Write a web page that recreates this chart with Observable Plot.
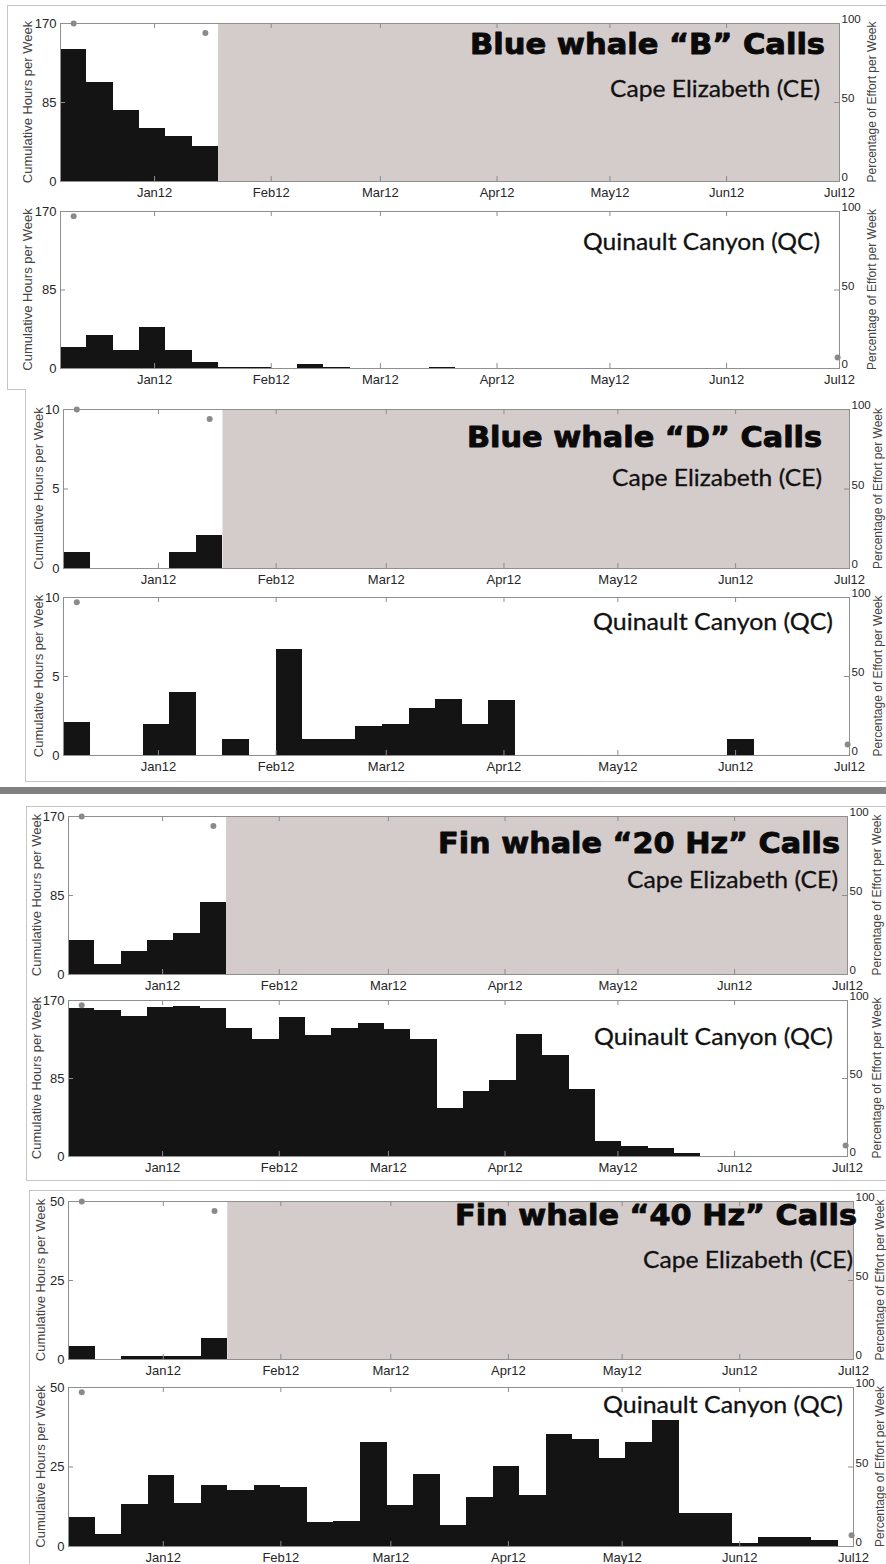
<!DOCTYPE html>
<html><head><meta charset="utf-8">
<script src="https://cdn.jsdelivr.net/npm/d3@7"></script>
<script src="https://cdn.jsdelivr.net/npm/@observablehq/plot@0.6"></script>
<style>
body{margin:0;background:#fff;}
#root{position:relative;width:886px;height:1564px;overflow:hidden;background:#fff;}
.box{position:absolute;border:1px solid #c6c6c6;box-sizing:border-box;background:#fff;}
.sep{position:absolute;left:0;width:886px;background:#808080;}
.panel{position:absolute;left:0;}
.panel svg{overflow:visible;}
#overlay{position:absolute;left:0;top:0;}
</style></head><body><div id="root"></div>
<script>
// ---------- DATA ----------
const weekStart = "2011-12-07";          // first week of recordings
const axisEnd = "2012-07-01";
const ceRecordingEnd = "2012-01-18";      // Cape Elizabeth recorder stopped
const monthTicks = ["2012-01-01","2012-02-01","2012-03-01","2012-04-01","2012-05-01","2012-06-01","2012-07-01"];
const monthLabels = ["Jan12","Feb12","Mar12","Apr12","May12","Jun12","Jul12"];
const siteNames = ["Cape Elizabeth (CE)", "Quinault Canyon (QC)"];
const callTitles = ["Blue whale “B” Calls", "Blue whale “D” Calls", "Fin whale “20 Hz” Calls", "Fin whale “40 Hz” Calls"];
const yMaxes = [170, 10, 170, 50];
const yAxisTitle = "Cumulative Hours per Week";
const rightAxisTitle = "Percentage of Effort per Week";

// weekly cumulative hours (week 0 starts 2011-12-07)
const blueB_CE = [142, 107, 76, 57, 48, 38];
const blueB_QC = [23, 36, 20, 44, 19, 6, 1.5, 0.7, 0, 4.5, 0.7, 0, 0, 0.4, 1.3, 0, 0, 0, 0, 0, 0, 0, 0, 0, 0, 0, 0, 0, 0, 0];
const blueD_CE = [1, 0, 0, 0, 1, 2.1];
const blueD_QC = [2.1, 0, 0, 1.95, 4.0, 0, 1.0, 0, 6.7, 1.0, 1.0, 1.85, 1.95, 3.0, 3.55, 1.95, 3.5, 0, 0, 0, 0, 0, 0, 0, 0, 1.0, 0, 0, 0, 0];
const fin20_CE = [37, 11, 25, 36.5, 44.4, 77];
const fin20_QC = [161, 158.6, 152.6, 162.7, 163.4, 161.6, 139.8, 127.9, 151.9, 131.9, 139.5, 144.6, 138, 127.1, 52.5, 70.8, 82.8, 133, 110, 73, 16.7, 11.3, 8.4, 3.6, 0, 0, 0, 0, 0, 0];
const fin40_CE = [4.2, 0, 1, 1, 1, 6.8];
const fin40_QC = [9.2, 3.7, 13.3, 22.2, 13.5, 19.3, 17.6, 19.3, 18.7, 7.5, 7.8, 32.6, 12.8, 22.7, 6.6, 15.5, 25.2, 16, 35.1, 33.6, 27.8, 32.6, 39.7, 10.5, 10.5, 1.05, 2.9, 2.9, 1.9, 0];

// percentage of recording effort per week (only partial weeks marked)
const ceEffortWeeks = [0, 5];
const ceEffortPct = [100, 94];
const qcEffortWeeks = [0, 29];
const qcEffortPct = [97, 7];

const seriesBySpecies = [[blueB_CE, blueB_QC], [blueD_CE, blueD_QC], [fin20_CE, fin20_QC], [fin40_CE, fin40_QC]];

// ---------- LAYOUT (pixels) ----------
const W = 886;
const layout = [
  {box:{x:7, y:5, h:385, noTop:false}, frame:[60,839], panels:[[23,181],[211,368]], yLabX:27, pLabX:872,
   title:{x:825, y:54, w:355, fs:28}, subs:[{x:820, y:97, w:210},{x:820, y:250, w:237}]},
  {box:{x:25, y:389, h:393, noTop:true}, frame:[63,849], panels:[[409,568],[597,755]], yLabX:38, pLabX:878,
   title:{x:822, y:447, w:355, fs:28}, subs:[{x:822, y:486, w:210},{x:833, y:630, w:240}]},
  {box:{x:26, y:806, h:375, noTop:false}, frame:[68,847], panels:[[816,974],[1000,1156]], yLabX:36, pLabX:877,
   title:{x:840, y:853, w:402, fs:29}, subs:[{x:838, y:888, w:211},{x:833, y:1045, w:239}]},
  {box:{x:29, y:1190, h:420, noTop:false}, frame:[68,853], panels:[[1201,1359],[1387,1546]], yLabX:40, pLabX:879.5,
   title:{x:857, y:1225, w:402, fs:28}, subs:[{x:853, y:1268, w:210},{x:843, y:1413, w:240}]}
];

// ---------- BUILD ----------
const root = document.getElementById("root");
const t0 = new Date(weekStart + "T00:00:00Z");
const xEnd = new Date(axisEnd + "T00:00:00Z");
const ceEnd = new Date(ceRecordingEnd + "T00:00:00Z");
const monthDates = monthTicks.map(s => new Date(s + "T00:00:00Z"));
const weekDate = i => d3.utcDay.offset(t0, 7 * i);

// group boxes + separator
layout.forEach(g => {
  const d = document.createElement("div");
  d.className = "box";
  d.style.left = g.box.x + "px";
  d.style.top = g.box.y + "px";
  d.style.width = (W + 20 - g.box.x) + "px";
  d.style.height = g.box.h + "px";
  if (g.box.noTop) d.style.borderTop = "none";
  root.appendChild(d);
});
const sep = document.createElement("div");
sep.className = "sep"; sep.style.top = "787px"; sep.style.height = "7px";
root.appendChild(sep);

const tickStroke = "#8c8c8c";
layout.forEach((g, gi) => {
  const yMax = yMaxes[gi];
  const [L, R] = g.frame;
  g.panels.forEach(([T, B], pi) => {
    const values = seriesBySpecies[gi][pi];
    const isCE = pi === 0;
    const effW = isCE ? ceEffortWeeks : qcEffortWeeks;
    const effP = isCE ? ceEffortPct : qcEffortPct;
    const mt = 14, mb = 26;
    const ph = B - T, pw = R - L;
    const bars = values.map((v, i) => ({x1: weekDate(i), x2: weekDate(i + 1), y: v})).filter(d => d.y > 0);
    const dots = effW.map((w, i) => ({x: d3.utcHour.offset(weekDate(w), 84), y: effP[i] / 100 * yMax}));
    const yTicks = [0, yMax / 2, yMax];
    const plot = Plot.plot({
      width: W, height: ph + mt + mb,
      marginLeft: L, marginRight: W - R, marginTop: mt, marginBottom: mb,
      style: {background: "transparent", overflow: "visible", fontFamily: "'Liberation Sans', Arial, sans-serif", fontSize: "13px", color: "#262626"},
      x: {type: "utc", domain: [t0, xEnd], label: null},
      y: {domain: [0, yMax], label: null},
      marks: [
        isCE ? Plot.rect([{x1: ceEnd, x2: xEnd, y1: 0, y2: yMax}], {x1: "x1", x2: "x2", y1: "y1", y2: "y2", fill: "#d4cbcb"}) : null,
        Plot.rectY(bars, {x1: "x1", x2: "x2", y: "y", fill: "#141414", shapeRendering: "crispEdges"}),
        Plot.tickX(monthDates, {x: d => d, insetTop: ph - 5, stroke: tickStroke}),
        Plot.tickX(monthDates, {x: d => d, insetBottom: ph - 5, stroke: tickStroke}),
        Plot.tickY(yTicks, {y: d => d, insetRight: pw - 5, stroke: tickStroke}),
        Plot.tickY(yTicks, {y: d => d, insetLeft: pw - 5, stroke: tickStroke}),
        Plot.frame({stroke: "#8f8f8f"}),
        Plot.dot(dots, {x: "x", y: "y", r: 3, fill: "#8a8a8a"}),
        Plot.axisX({ticks: monthDates, tickFormat: d => monthLabels[monthDates.findIndex(m => +m === +d)], tickSize: 0, tickPadding: 6, label: null, fill: "#262626"}),
        Plot.axisY({anchor: "left", ticks: yTicks, tickFormat: d => String(d), tickSize: 0, tickPadding: 4, label: null, fill: "#262626"}),
        Plot.axisY({anchor: "right", ticks: yTicks, tickFormat: d => String(Math.round(d / yMax * 100)), tickSize: 0, tickPadding: 2, dy: -4, label: null, fill: "#262626", fontSize: 11.5})
      ]
    });
    const wrap = document.createElement("div");
    wrap.className = "panel";
    wrap.style.top = (T - mt) + "px";
    wrap.appendChild(plot);
    root.appendChild(wrap);
  });
});

// overlay text: titles, site names, axis titles
const svg = d3.select(root).append("svg").attr("id", "overlay").attr("width", W).attr("height", 1564);
layout.forEach((g, gi) => {
  svg.append("text")
    .attr("x", g.title.x).attr("y", g.title.y)
    .attr("text-anchor", "end")
    .attr("font-family", "'DejaVu Sans', sans-serif").attr("font-weight", "bold")
    .attr("font-size", g.title.fs)
    .attr("textLength", g.title.w).attr("lengthAdjust", "spacingAndGlyphs")
    .attr("fill", "#0a0a0a").attr("stroke", "#0a0a0a").attr("stroke-width", 0.9).attr("stroke-linejoin", "round")
    .text(callTitles[gi]);
  g.subs.forEach((s, si) => {
    svg.append("text")
      .attr("x", s.x).attr("y", s.y)
      .attr("text-anchor", "end")
      .attr("font-family", "Lato, 'Open Sans', sans-serif")
      .attr("font-size", 24)
      .attr("textLength", s.w).attr("lengthAdjust", "spacingAndGlyphs")
      .attr("fill", "#111").attr("stroke", "#111").attr("stroke-width", 0.3)
      .text(siteNames[si]);
  });
  g.panels.forEach(([T, B]) => {
    const cy = (T + B) / 2;
    svg.append("text")
      .attr("transform", `translate(${g.yLabX},${cy}) rotate(-90)`)
      .attr("text-anchor", "middle").attr("dominant-baseline", "central")
      .attr("font-family", "'Liberation Sans', Arial, sans-serif").attr("font-size", 13)
      .attr("fill", "#444")
      .text(yAxisTitle);
    svg.append("text")
      .attr("transform", `translate(${g.pLabX},${cy}) rotate(-90)`)
      .attr("text-anchor", "middle").attr("dominant-baseline", "central")
      .attr("font-family", "'Liberation Sans', Arial, sans-serif").attr("font-size", 12)
      .attr("fill", "#444")
      .text(rightAxisTitle);
  });
});
</script></body></html>
